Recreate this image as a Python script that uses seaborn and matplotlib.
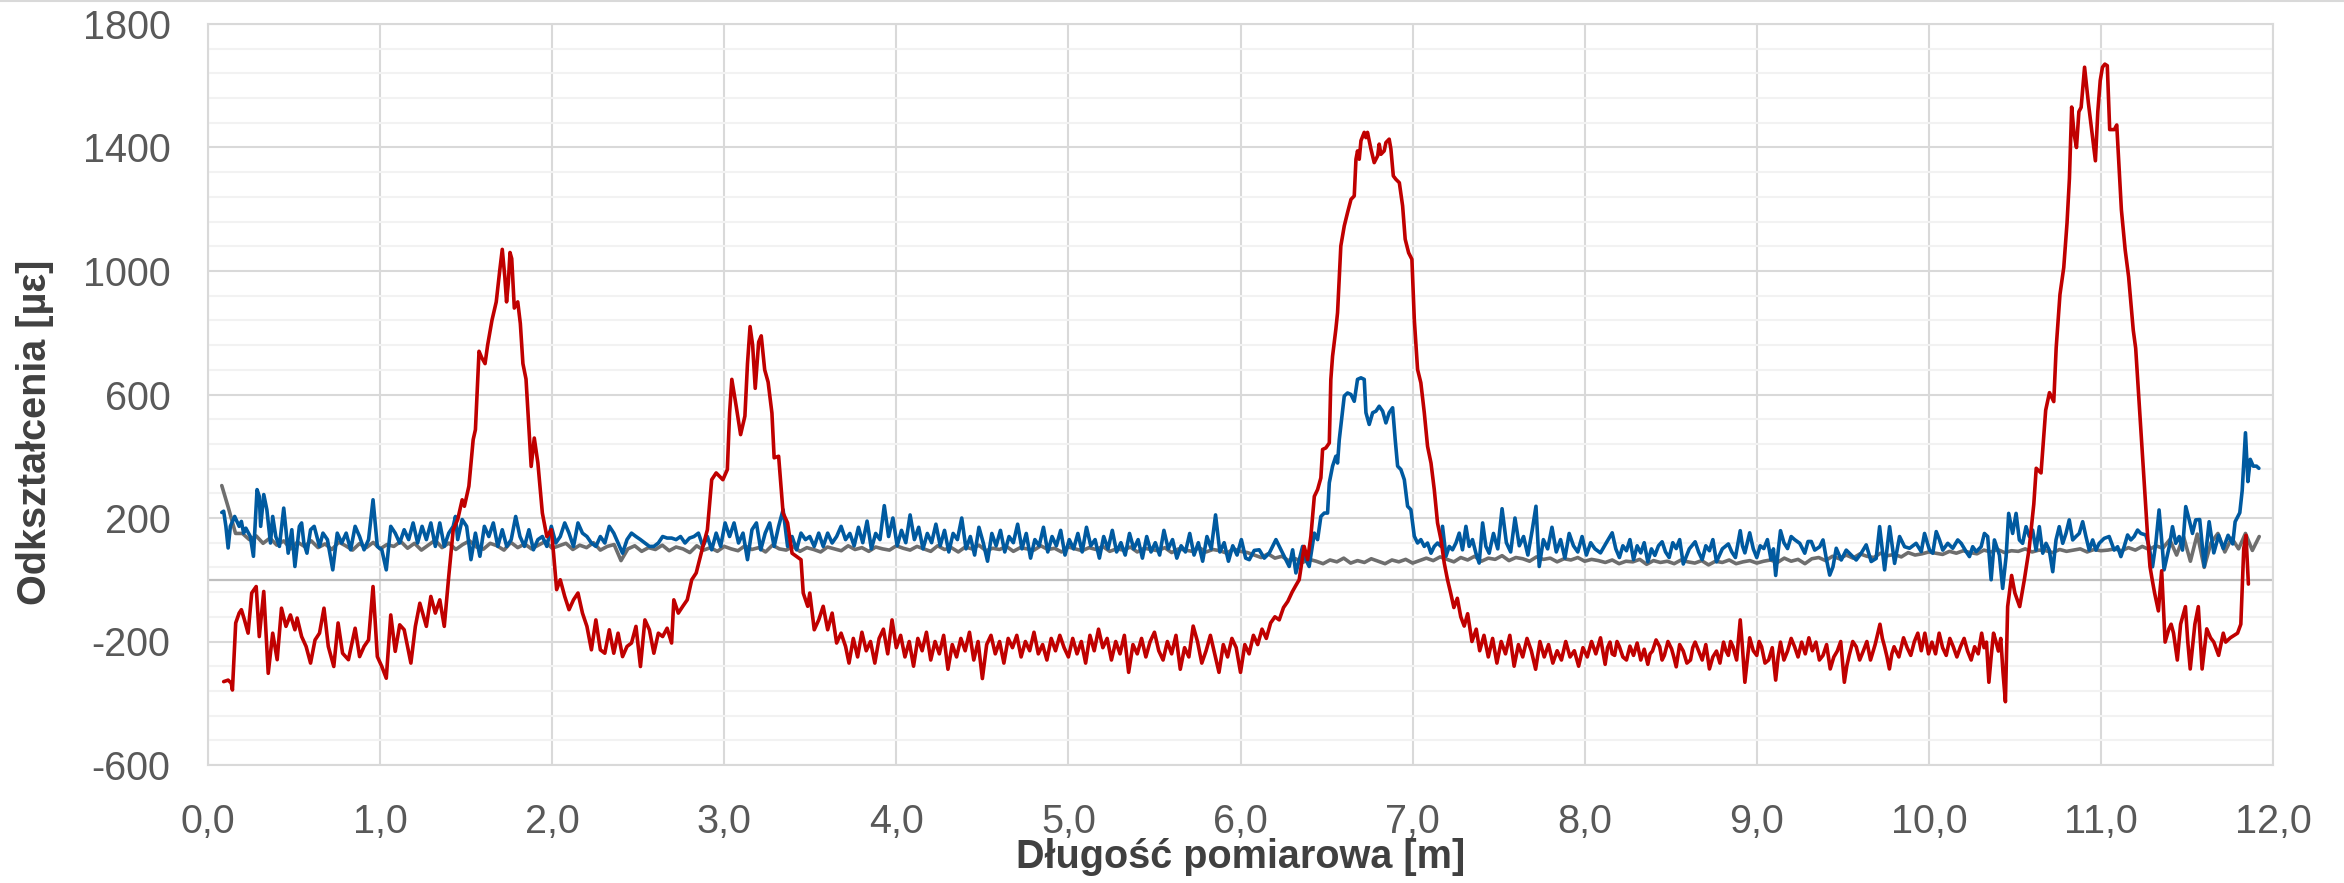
import numpy as np
import pandas as pd
import matplotlib
matplotlib.use("Agg")
import matplotlib.pyplot as plt
import seaborn as sns
from matplotlib.ticker import FixedLocator, FuncFormatter
from matplotlib.lines import Line2D

# ---------------- data (distance [m], strain [µε]) ----------------
RED = [
    (0.091,-330),(0.117,-325),(0.135,-335),(0.142,-357),(0.161,-140),(0.181,-108),(0.194,-97),(0.212,-130),
    (0.233,-173),(0.254,-43),(0.280,-22),(0.298,-184),(0.324,-38),(0.350,-303),(0.376,-173),(0.402,-259),
    (0.427,-92),(0.453,-151),(0.479,-114),(0.505,-162),(0.518,-124),(0.544,-184),(0.570,-216),(0.596,-270),
    (0.622,-195),(0.648,-173),(0.674,-92),(0.699,-216),(0.731,-281),(0.756,-140),(0.782,-238),(0.816,-259),
    (0.855,-157),(0.881,-249),(0.907,-216),(0.933,-195),(0.959,-22),(0.984,-249),(1.010,-281),(1.036,-319),
    (1.062,-114),(1.088,-232),(1.114,-146),(1.140,-162),(1.179,-270),(1.205,-151),(1.231,-76),(1.269,-151),
    (1.295,-54),(1.321,-108),(1.347,-65),(1.373,-151),(1.399,11),(1.425,162),(1.451,195),(1.477,259),
    (1.490,238),(1.516,303),(1.541,454),(1.554,486),(1.575,740),(1.590,720),(1.610,700),(1.625,760),
    (1.650,840),(1.675,900),(1.695,1000),(1.710,1070),(1.725,980),(1.735,900),(1.745,960),(1.755,1060),
    (1.765,1040),(1.780,880),(1.800,900),(1.815,830),(1.830,700),(1.848,650),(1.862,520),(1.878,367),
    (1.896,459),(1.917,378),(1.943,216),(1.969,140),(1.995,162),(2.008,86),(2.026,-32),(2.047,0),
    (2.073,-54),(2.098,-97),(2.124,-65),(2.150,-43),(2.176,-108),(2.202,-151),(2.228,-227),(2.254,-130),
    (2.280,-227),(2.306,-238),(2.332,-162),(2.358,-238),(2.383,-173),(2.409,-249),(2.435,-216),(2.461,-205),
    (2.487,-151),(2.513,-281),(2.539,-130),(2.565,-162),(2.591,-238),(2.617,-173),(2.642,-184),(2.668,-157),
    (2.694,-205),(2.707,-65),(2.733,-108),(2.759,-86),(2.785,-65),(2.811,0),(2.837,22),(2.876,108),
    (2.902,162),(2.927,324),(2.953,346),(2.992,324),(3.018,357),(3.031,540),(3.044,649),(3.070,560),
    (3.095,470),(3.120,530),(3.135,700),(3.150,820),(3.165,760),(3.180,620),(3.200,770),(3.215,790),
    (3.235,680),(3.255,640),(3.277,540),(3.290,395),(3.316,400),(3.342,216),(3.368,184),(3.394,86),
    (3.446,65),(3.459,-43),(3.485,-86),(3.497,-43),(3.523,-162),(3.549,-130),(3.575,-86),(3.601,-162),
    (3.627,-108),(3.653,-205),(3.679,-173),(3.705,-216),(3.725,-270),
    (3.75,-190),(3.775,-250),(3.80,-170),(3.825,-230),(3.85,-200),(3.875,-270),(3.90,-190),(3.925,-160),
    (3.95,-240),(3.975,-130),(4.00,-220),(4.025,-180),(4.05,-250),(4.075,-200),(4.10,-280),(4.125,-190),
    (4.15,-230),(4.175,-170),(4.20,-260),(4.225,-200),(4.25,-240),(4.275,-180),(4.30,-290),(4.325,-210),
    (4.35,-250),(4.375,-190),(4.40,-230),(4.425,-170),(4.45,-260),(4.475,-200),(4.50,-320),(4.525,-210),
    (4.55,-180),(4.575,-240),(4.60,-200),(4.625,-270),(4.65,-190),(4.675,-220),(4.70,-180),(4.725,-250),
    (4.75,-200),(4.775,-230),(4.80,-170),(4.825,-240),(4.85,-210),(4.875,-260),(4.90,-190),(4.925,-230),
    (4.95,-180),(4.975,-220),(5.00,-250),(5.025,-190),(5.05,-240),(5.075,-200),(5.10,-270),(5.125,-180),
    (5.15,-230),(5.175,-160),(5.20,-220),(5.225,-190),(5.25,-260),(5.275,-200),(5.30,-240),(5.325,-180),
    (5.35,-300),(5.375,-210),(5.40,-240),(5.425,-190),(5.45,-250),(5.475,-200),(5.50,-170),(5.525,-230),
    (5.55,-260),(5.575,-200),(5.60,-240),(5.625,-180),(5.65,-290),(5.675,-220),(5.70,-250),(5.725,-150),
    (5.75,-200),(5.775,-270),(5.80,-230),(5.825,-180),(5.85,-240),(5.875,-300),(5.90,-210),(5.925,-250),
    (5.95,-190),(5.975,-220),(6.00,-300),(6.025,-210),(6.05,-240),(6.075,-180),(6.10,-210),(6.125,-160),
    (6.15,-190),(6.175,-140),(6.20,-120),(6.225,-130),(6.25,-90),(6.275,-70),(6.30,-40),(6.32,-20),
    (6.341,0),(6.370,108),(6.390,65),(6.409,141),(6.429,270),(6.448,292),(6.467,330),(6.477,422),
    (6.496,427),(6.516,443),(6.525,649),(6.535,724),(6.554,811),(6.564,865),(6.583,1081),(6.603,1146),
    (6.622,1189),(6.642,1232),(6.661,1243),(6.671,1362),(6.680,1389),(6.690,1362),(6.700,1422),(6.719,1449),
    (6.729,1432),(6.738,1449),(6.758,1395),(6.777,1351),(6.797,1373),(6.806,1411),(6.816,1378),(6.835,1389),
    (6.845,1416),(6.864,1427),(6.874,1395),(6.888,1308),(6.903,1297),(6.923,1286),(6.942,1211),(6.957,1103),
    (6.977,1059),(6.996,1038),(7.010,843),(7.029,681),(7.048,638),(7.068,541),(7.087,432),(7.107,378),
    (7.126,292),(7.145,184),(7.165,130),(7.184,54),(7.203,0),
    (7.22,-40),(7.24,-90),(7.26,-60),(7.28,-120),(7.30,-150),(7.32,-110),(7.345,-200),(7.37,-160),
    (7.39,-230),(7.415,-180),(7.44,-250),(7.465,-190),(7.49,-270),(7.515,-200),(7.54,-240),(7.565,-180),
    (7.59,-280),(7.615,-210),(7.64,-250),(7.665,-190),(7.69,-230),(7.715,-290),(7.74,-200),(7.765,-250),
    (7.79,-210),(7.815,-270),(7.84,-230),(7.865,-260),(7.89,-200),(7.915,-250),(7.94,-230),(7.965,-280),
    (7.99,-220),(8.015,-250),(8.04,-200),(8.065,-240),
    (8.092,-188),(8.105,-230),(8.119,-274),(8.133,-220),(8.147,-202),(8.160,-240),(8.174,-245),(8.188,-200),
    (8.202,-217),(8.222,-250),(8.243,-260),(8.263,-215),(8.284,-245),(8.305,-205),(8.326,-260),(8.346,-225),
    (8.367,-274),(8.380,-240),(8.394,-231),(8.415,-195),(8.436,-217),(8.450,-260),(8.463,-245),(8.484,-200),
    (8.505,-224),(8.518,-250),(8.532,-282),(8.552,-210),(8.573,-231),(8.594,-270),(8.615,-260),(8.628,-220),
    (8.642,-202),(8.662,-230),(8.683,-260),(8.704,-210),(8.725,-289),(8.745,-250),(8.766,-231),(8.786,-270),
    (8.807,-202),(8.821,-230),(8.835,-245),(8.848,-200),(8.862,-217),(8.883,-260),(8.904,-130),(8.917,-220),
    (8.931,-332),(8.945,-260),(8.959,-188),(8.980,-230),(9.000,-245),(9.014,-200),(9.028,-217),(9.048,-270),
    (9.069,-260),(9.090,-220),(9.110,-325),(9.124,-250),(9.138,-202),(9.158,-260),(9.179,-231),(9.200,-190),
    (9.220,-217),(9.240,-250),(9.261,-202),(9.282,-240),(9.303,-188),(9.323,-230),(9.344,-202),(9.364,-260),
    (9.385,-245),(9.406,-210),(9.427,-289),(9.448,-250),(9.468,-231),(9.488,-200),(9.509,-332),(9.523,-280),
    (9.537,-245),(9.558,-200),(9.578,-217),(9.598,-260),(9.619,-231),(9.640,-200),(9.661,-260),(9.688,-210),
    (9.716,-144),(9.730,-190),(9.743,-217),(9.757,-250),(9.771,-289),(9.785,-240),(9.798,-217),(9.826,-250),
    (9.853,-188),(9.874,-220),(9.895,-245),(9.916,-200),(9.936,-173),(9.956,-230),(9.977,-173),(9.998,-240),
    (10.018,-202),(10.039,-240),(10.060,-173),(10.080,-220),(10.101,-245),(10.122,-190),(10.142,-217),(10.163,-250),
    (10.184,-217),(10.205,-190),(10.225,-231),(10.246,-260),(10.266,-217),(10.287,-240),(10.307,-173),(10.321,-220),
    (10.335,-202),(10.349,-332),(10.362,-250),(10.376,-173),(10.390,-200),(10.404,-231),(10.418,-190),
    (10.431,-300),(10.445,-395),(10.458,-87),(10.481,14),(10.500,-43),(10.528,-87),(10.555,0),(10.583,101),
    (10.610,245),(10.624,361),(10.652,346),(10.679,549),(10.701,606),(10.726,577),(10.740,751),(10.762,924),
    (10.784,1011),(10.803,1155),(10.817,1300),(10.830,1531),(10.844,1444),(10.858,1400),(10.872,1516),(10.885,1530),
    (10.905,1660),(10.927,1545),(10.949,1444),(10.968,1357),(10.982,1516),(10.996,1617),(11.009,1660),(11.023,1670),
    (11.037,1665),(11.051,1458),(11.078,1458),(11.092,1473),(11.119,1198),(11.141,1068),(11.161,981),(11.188,808),
    (11.202,750),(11.230,505),(11.252,317),(11.271,144),(11.285,43),(11.298,0),(11.312,-43),(11.334,-101),
    (11.353,29),(11.373,-202),(11.395,-159),(11.408,-144),(11.422,-173),(11.444,-260),(11.463,-144),(11.491,-87),
    (11.505,-202),(11.519,-289),(11.546,-144),(11.566,-87),(11.588,-289),(11.615,-159),(11.637,-188),(11.656,-202),
    (11.684,-245),(11.711,-173),(11.725,-202),(11.752,-188),(11.794,-173),(11.813,-144),(11.830,101),(11.843,144),
    (11.857,-14),
]

BLUE = [
    (0.080,218),(0.091,222),(0.104,173),(0.117,103),(0.130,173),(0.155,205),(0.181,173),(0.194,189),(0.207,151),
    (0.220,167),(0.246,140),(0.264,76),(0.285,292),(0.298,270),(0.306,173),(0.324,276),(0.342,227),(0.363,119),
    (0.376,205),(0.394,140),(0.415,108),(0.440,232),(0.453,162),(0.466,86),(0.487,162),(0.505,43),(0.531,173),
    (0.544,184),(0.557,119),(0.575,86),(0.596,162),(0.617,173),(0.648,108),(0.668,151),(0.694,130),(0.725,32),
    (0.751,151),(0.777,119),(0.803,151),(0.829,97),(0.855,173),(0.881,140),(0.907,97),(0.933,130),(0.959,259),
    (0.984,108),(1.010,97),(1.036,32),(1.062,173),(1.088,151),(1.114,119),(1.140,162),(1.166,130),(1.192,184),
    (1.218,119),(1.244,173),(1.269,130),(1.295,184),(1.321,108),(1.347,184),(1.373,108),(1.399,151),(1.425,173),
    (1.438,205),(1.451,130),(1.477,195),(1.503,173),(1.528,65),(1.554,151),(1.580,76),(1.606,173),(1.632,140),
    (1.658,184),(1.684,108),(1.710,162),(1.736,108),(1.762,130),(1.788,205),(1.813,140),(1.839,108),(1.865,162),
    (1.891,97),(1.917,130),(1.943,140),(1.969,108),(1.995,173),(2.021,119),(2.047,140),(2.073,184),(2.098,151),
    (2.124,108),(2.150,184),(2.176,151),(2.202,140),(2.228,119),(2.254,108),(2.280,140),(2.306,119),(2.332,173),
    (2.358,151),(2.383,119),(2.409,86),(2.435,130),(2.461,151),(2.487,140),(2.513,130),(2.539,119),(2.565,108),
    (2.591,108),(2.617,119),(2.642,140),(2.668,135),(2.694,135),(2.720,130),(2.746,140),(2.772,119),(2.798,135),
    (2.824,140),(2.850,151),(2.876,108),(2.902,140),(2.927,97),(2.953,151),(2.979,108),(3.005,184),(3.031,140),
    (3.057,184),(3.083,119),(3.109,151),(3.135,65),(3.161,162),(3.187,184),(3.212,97),(3.238,151),(3.264,184),
    (3.290,108),(3.316,173),(3.342,227),(3.368,108),(3.394,140),(3.420,97),(3.446,151),(3.472,130),(3.497,140),
    (3.523,108),(3.549,151),(3.575,108),(3.601,151),(3.627,119),(3.653,140),(3.679,173),(3.705,130),
    (3.73,150),(3.755,110),(3.78,170),(3.805,120),(3.83,190),(3.855,100),(3.88,150),(3.905,130),(3.93,240),
    (3.955,140),(3.98,200),(4.005,110),(4.03,160),(4.055,120),(4.08,210),(4.105,130),(4.13,170),(4.155,100),
    (4.18,150),(4.205,120),(4.23,180),(4.255,110),(4.28,160),(4.305,90),(4.33,150),(4.355,130),(4.38,200),
    (4.405,100),(4.43,140),(4.455,80),(4.48,170),(4.505,120),(4.53,60),(4.555,150),(4.58,110),(4.605,160),
    (4.63,90),(4.655,140),(4.68,120),(4.705,180),(4.73,100),(4.755,150),(4.78,70),(4.805,130),(4.83,110),
    (4.855,170),(4.88,90),(4.905,140),(4.93,110),(4.955,160),(4.98,80),(5.005,130),(5.03,100),(5.055,150),
    (5.08,90),(5.105,170),(5.13,110),(5.155,130),(5.18,70),(5.205,140),(5.23,100),(5.255,160),(5.28,90),
    (5.305,120),(5.33,80),(5.355,150),(5.38,100),(5.405,130),(5.43,70),(5.455,140),(5.48,90),(5.505,120),
    (5.53,80),(5.555,160),(5.58,100),(5.605,130),(5.63,70),(5.655,110),(5.68,90),(5.705,150),(5.73,80),
    (5.755,120),(5.78,60),(5.805,140),(5.83,100),(5.855,210),(5.88,90),(5.905,120),(5.93,60),(5.955,110),
    (5.98,80),(6.005,130),(6.03,70),
    (6.051,65),(6.080,95),(6.109,97),(6.138,70),(6.167,86),(6.206,130),(6.245,86),(6.283,43),(6.303,97),
    (6.322,22),(6.361,108),(6.380,65),(6.399,43),(6.429,151),(6.448,130),(6.467,205),(6.487,216),(6.506,216),
    (6.516,314),(6.535,368),(6.554,400),(6.564,378),(6.574,454),(6.603,595),(6.622,605),(6.642,600),(6.661,578),
    (6.680,649),(6.700,654),(6.719,649),(6.729,541),(6.748,503),(6.768,541),(6.787,546),(6.806,562),(6.826,546),
    (6.845,508),(6.864,541),(6.884,557),(6.899,454),(6.913,368),(6.932,357),(6.952,324),(6.971,238),(6.990,227),
    (7.010,141),(7.029,119),(7.048,130),(7.068,108),(7.087,119),(7.107,86),(7.126,108),(7.145,119),(7.165,108),
    (7.174,173),(7.194,76),(7.213,108),(7.232,97),(7.252,119),(7.271,151),(7.290,97),(7.310,173),(7.329,108),
    (7.348,130),(7.368,86),(7.387,54),(7.407,184),(7.426,108),(7.445,86),
    (7.47,150),(7.495,100),(7.52,230),(7.545,120),(7.57,90),(7.595,200),(7.62,110),(7.645,140),(7.67,80),
    (7.695,160),(7.717,238),(7.736,43),(7.76,130),(7.785,100),(7.81,170),(7.835,90),(7.86,130),(7.885,70),
    (7.91,150),(7.935,110),(7.96,90),(7.985,140),(8.01,80),(8.035,120),(8.06,100),
    (8.092,87),(8.126,120),(8.160,152),(8.181,100),(8.202,72),(8.222,110),(8.243,94),(8.263,130),(8.284,65),
    (8.305,110),(8.326,87),(8.346,120),(8.367,58),(8.388,100),(8.408,79),(8.429,110),(8.450,123),(8.470,90),
    (8.491,72),(8.512,120),(8.532,101),(8.552,130),(8.573,51),(8.608,100),(8.642,123),(8.662,90),(8.683,65),
    (8.704,110),(8.725,94),(8.745,130),(8.766,58),(8.800,100),(8.835,116),(8.855,90),(8.876,72),(8.904,159),
    (8.917,110),(8.931,87),(8.945,120),(8.959,152),(8.980,100),(9.000,72),(9.020,110),(9.041,101),(9.062,130),
    (9.083,65),(9.097,100),(9.110,14),(9.124,90),(9.138,159),(9.158,120),(9.179,101),(9.200,140),(9.220,130),
    (9.250,118),(9.279,86),(9.298,124),(9.317,124),(9.337,96),(9.366,107),(9.385,129),(9.404,69),(9.424,15),
    (9.443,42),(9.462,102),(9.491,64),(9.520,96),(9.549,80),(9.578,64),(9.607,86),(9.636,113),(9.665,59),
    (9.694,69),(9.714,172),(9.743,32),(9.772,172),(9.801,53),(9.830,140),(9.859,107),(9.888,102),(9.926,118),
    (9.956,91),(9.975,150),(10.004,96),(10.023,86),(10.043,156),(10.062,129),(10.081,96),(10.110,118),(10.139,102),
    (10.168,129),(10.188,118),(10.217,91),(10.236,75),(10.255,107),(10.275,91),(10.304,107),(10.323,150),(10.342,140),
    (10.362,0),(10.381,129),(10.410,80),(10.429,-28),(10.449,75),(10.464,215),(10.487,150),(10.507,215),(10.526,129),
    (10.545,118),(10.565,172),(10.584,140),(10.603,161),(10.623,96),(10.642,172),(10.662,86),(10.681,118),(10.700,96),
    (10.720,26),(10.739,129),(10.758,172),(10.778,118),(10.797,150),(10.816,194),(10.836,129),(10.855,140),(10.874,150),
    (10.894,188),(10.913,140),(10.932,96),(10.952,129),(10.971,96),(10.990,118),(11.019,134),(11.048,140),(11.077,96),
    (11.097,107),(11.116,75),(11.135,107),(11.155,145),(11.174,129),(11.193,140),(11.213,161),(11.232,150),(11.261,145),
    (11.280,107),(11.300,42),(11.319,118),(11.338,226),(11.358,96),(11.367,32),(11.397,107),(11.416,172),(11.435,118),
    (11.455,140),(11.474,96),(11.493,237),(11.513,194),(11.532,150),(11.551,194),
    (11.574,195),(11.601,43),(11.629,188),(11.656,87),(11.684,144),(11.711,101),(11.739,144),(11.766,116),
    (11.780,188),(11.807,217),(11.821,289),(11.840,476),(11.854,318),(11.868,390),(11.885,368),(11.904,368),
    (11.918,361),
]

# grey series: one reading every 0.04 m from 0.08 m to 11.92 m
GREY_START, GREY_STEP = 0.08, 0.04
GREY = [
    305, 230, 150, 150, 130, 142, 118, 135, 112, 126, 100, 122, 108, 126, 104, 116, 98, 122, 110, 96, 117, 104, 121, 100, 114,
    108, 124, 102, 118, 96, 112, 128, 104, 119, 98, 114, 126, 106, 99, 118, 110, 96, 121, 104, 116, 100, 112, 124, 102, 110,
    118, 98, 112, 104, 120, 96, 108, 114, 62, 100, 110, 92, 104, 98, 112, 94, 106, 100, 88, 110, 96, 104, 92, 108, 100,
    94, 110, 98, 104, 90, 112, 100, 96, 108, 92, 104, 98, 90, 106, 100, 94, 110, 98, 104, 92, 106, 100, 96, 110, 102,
    96, 108, 100, 92, 110, 98, 104, 90, 106, 100, 112, 94, 102, 98, 108, 92, 104, 100, 96, 110, 98, 102, 90, 106, 100,
    94, 104, 98, 108, 92, 100, 96, 106, 90, 102, 98, 94, 104, 88, 100, 96, 92, 104, 90, 98, 94, 86, 100, 92, 88,
    80, 72, 84, 70, 76, 62, 68, 56, 66, 60, 52, 64, 58, 70, 54, 62, 56, 68, 60, 52, 64, 58, 66, 54, 62,
    70, 62, 74, 66, 58, 72, 64, 76, 60, 70, 66, 78, 62, 72, 68, 60, 74, 66, 70, 58, 68, 64, 72, 60, 66,
    62, 56, 64, 52, 60, 58, 66, 50, 62, 56, 60, 52, 64, 58, 54, 62, 48, 60, 56, 64, 52, 58, 62, 54, 60,
    64, 56, 70, 60, 66, 52, 68, 72, 62, 76, 68, 80, 70, 84, 76, 72, 86, 78, 82, 74, 88, 80, 84, 90, 86,
    82, 92, 86, 94, 88, 84, 96, 90, 98, 88, 94, 92, 100, 90, 96, 94, 88, 98, 92, 96, 100, 90, 98, 94, 96,
    100, 94, 104, 96, 108, 98, 110, 102, 130, 80, 140, 60, 148, 40, 120, 150, 90, 135, 100, 150, 95, 140,
]

X_TICKS = [0, 1, 2, 3, 4, 5, 6, 7, 8, 9, 10, 11, 12]
Y_TICKS = [-600, -200, 200, 600, 1000, 1400, 1800]
X_LABEL = "Długość pomiarowa [m]"
Y_LABEL = "Odkształcenia [µε]"

# ---------------- frames ----------------
red_df = pd.DataFrame(RED, columns=["dist", "strain"])
blue_df = pd.DataFrame(BLUE, columns=["dist", "strain"])
grey_df = pd.DataFrame({"dist": np.round(GREY_START + GREY_STEP * np.arange(len(GREY)), 3),
                        "strain": GREY})

# ---------------- style ----------------
sns.set_theme(style="white")
plt.rcParams["font.family"] = ["Liberation Sans", "DejaVu Sans"]
plt.rcParams["axes.unicode_minus"] = False

W, H = 2344, 883
fig = plt.figure(figsize=(W / 100, H / 100), dpi=100)
L, R, T, B = 208, 2273, 24, 765
ax = fig.add_axes([L / W, 1 - B / H, (R - L) / W, (B - T) / H])

lw = 2.6
sns.lineplot(data=grey_df, x="dist", y="strain", ax=ax, color="#6E6E6E", linewidth=lw,
             estimator=None, sort=False, legend=False, zorder=3)
sns.lineplot(data=blue_df, x="dist", y="strain", ax=ax, color="#005AA0", linewidth=lw,
             estimator=None, sort=False, legend=False, zorder=4)
sns.lineplot(data=red_df, x="dist", y="strain", ax=ax, color="#C00000", linewidth=lw,
             estimator=None, sort=False, legend=False, zorder=5)

ax.set_xlim(0, 12)
ax.set_ylim(-600, 1800)
ax.xaxis.set_major_locator(FixedLocator(X_TICKS))
ax.yaxis.set_major_locator(FixedLocator(Y_TICKS))
ax.yaxis.set_minor_locator(FixedLocator(list(range(-600, 1801, 80))))
ax.xaxis.set_major_formatter(FuncFormatter(lambda v, p: f"{v:.1f}".replace(".", ",")))
ax.yaxis.set_major_formatter(FuncFormatter(lambda v, p: f"{int(round(v))}"))

ax.set_axisbelow(True)
ax.grid(which="minor", axis="y", color="#F2F2F2", linewidth=1.5, zorder=0)
ax.grid(which="major", axis="y", color="#D9D9D9", linewidth=1.5, zorder=0)
ax.grid(which="major", axis="x", color="#D9D9D9", linewidth=1.5, zorder=0)
ax.axhline(0, color="#BFBFBF", linewidth=1.6, zorder=1)

ax.tick_params(which="both", length=0, pad=27, labelsize=28.5, labelcolor="#595959")
for s in ax.spines.values():
    s.set_color("#D9D9D9")
    s.set_linewidth(1.5)

ax.set_xlabel("")
ax.set_ylabel("")
fig.text((L + R) / 2 / W, 1 - 868 / H, X_LABEL, ha="center", va="baseline",
         fontsize=28.5, fontweight="bold", color="#404040")
fig.text(35 / W, 1 - 432 / H, Y_LABEL, ha="center", va="center", rotation=90,
         fontsize=28.5, fontweight="bold", color="#404040")

# thin frame line at the very top of the image
fig.add_artist(Line2D([0, 1], [1 - 1 / H, 1 - 1 / H], transform=fig.transFigure,
                      color="#D9D9D9", linewidth=1.5))

fig.savefig("out.png", dpi=100, facecolor="white")
